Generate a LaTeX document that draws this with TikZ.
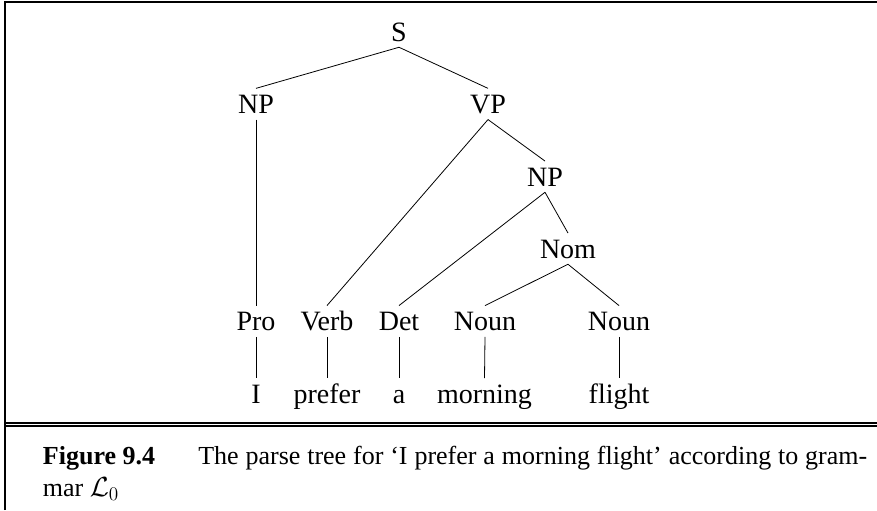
\documentclass[tikz,border=0pt]{standalone}
\usepackage{fontspec}
\setmainfont{Liberation Serif}
\begin{document}
\begin{tikzpicture}[x=0.75pt,y=-0.75pt,
  tn/.style={font=\fontsize{21}{25}\selectfont, anchor=base, inner xsep=2pt, inner ysep=4.5pt, text height=14pt, text depth=0pt},
  edge/.style={line width=0.6pt},
  frame/.style={line width=1.5pt, line join=miter},
  dbl/.style={line width=1.2pt},
  captxt/.style={font=\fontsize{19.5}{24}\selectfont, anchor=base west, inner sep=0pt}]
\useasboundingbox (0,0) rectangle (877,510);
% frame
\draw[frame] (4.5,510) -- (4.5,1.7) -- (877,1.7);
\draw[dbl] (4.5,422.8) -- (877,422.8);
\draw[dbl] (4.5,426.2) -- (877,426.2);
% tree nodes
\node[tn] (S) at (399,41) {S};
\node[tn] (NP) at (256,113.3) {NP};
\node[tn] (VP) at (488,113.3) {VP};
\node[tn] (NPb) at (545,186) {NP};
\node[tn] (Nom) at (568,258) {Nom};
\node[tn] (Pro) at (256,330.5) {Pro};
\node[tn] (Verb) at (327,330.5) {Verb};
\node[tn] (Det) at (399,330.5) {Det};
\node[tn] (NounA) at (485,330.5) {Noun};
\node[tn] (NounB) at (619,330.5) {Noun};
\node[tn] (wI) at (256,403) {I};
\node[tn] (wprefer) at (327,403) {prefer};
\node[tn] (wa) at (399,403) {a};
\node[tn] (wmorning) at (484.5,403) {morning};
\node[tn] (wflight) at (619,403) {flight};
% edges
\draw[edge] (S.south) -- (NP.north);
\draw[edge] (S.south) -- (VP.north);
\draw[edge] (NP.south) -- (Pro.north);
\draw[edge] (VP.south) -- (Verb.north);
\draw[edge] (VP.south) -- (NPb.north);
\draw[edge] (NPb.south) -- (Det.north);
\draw[edge] (NPb.south) -- (Nom.north);
\draw[edge] (Nom.south) -- (NounA.north);
\draw[edge] (Nom.south) -- (NounB.north);
\draw[edge] (Pro.south) -- (wI.north);
\draw[edge] (Verb.south) -- (wprefer.north);
\draw[edge] (Det.south) -- (wa.north);
\draw[edge] (NounA.south) -- (wmorning.north);
\draw[edge] (NounB.south) -- (wflight.north);
% caption
\node[captxt] (fig) at (42.7,464) {\textbf{Figure 9.4}};
\node[captxt] (captext) at (198,464) {\makebox[501.75pt][s]{The parse tree for `I prefer a morning flight' according to gram-}};
\node[captxt] (cap2) at (42.7,496.7) {mar $\mathcal{L}_0$};
\end{tikzpicture}
\end{document}
